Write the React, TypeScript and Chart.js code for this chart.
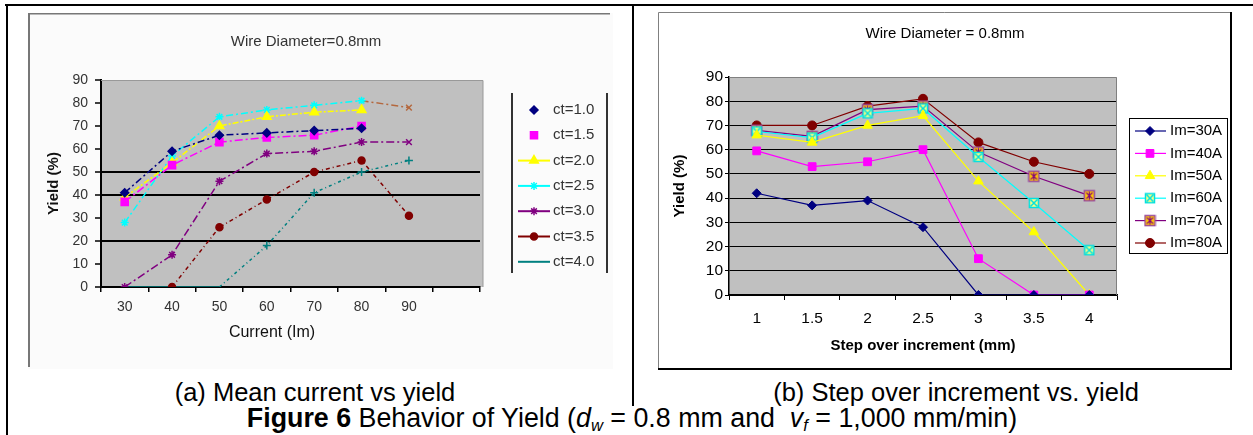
import React, { useEffect, useRef } from 'react';
import { Chart, registerables } from 'chart.js';
import { drawPoint } from 'chart.js/helpers';

Chart.register(...registerables);

// ---------- Data: chart (a) Mean current vs yield ----------
const currentLabels = ['30', '40', '50', '60', '70', '80', '90', ''];
const ctNames = ['ct=1.0', 'ct=1.5', 'ct=2.0', 'ct=2.5', 'ct=3.0', 'ct=3.5', 'ct=4.0'];
const ct10 = [41, 59, 66, 67, 68, 69, null, null];
const ct15 = [37, 53, 63, 65, 66, 70, null, null];
const ct20 = [39, 54, 70, 74, 76, 77, null, null];
const ct25 = [28, 57, 74, 77, 79, 81, 78, null];
const ct30 = [0, 14, 46, 58, 59, 63, 63, null];
const ct35 = [null, 0, 26, 38, 50, 55, 31, null];
const ct40 = [0, 0, 0, 18, 41, 50, 55, null];

// ---------- Data: chart (b) Step over increment vs yield ----------
const stepLabels = ['1', '1.5', '2', '2.5', '3', '3.5', '4'];
const imNames = ['Im=30A', 'Im=40A', 'Im=50A', 'Im=60A', 'Im=70A', 'Im=80A'];
const im30 = [42, 37, 39, 28, 0, 0, 0];
const im40 = [59.5, 53, 55, 60, 15, 0, 0];
const im50 = [66, 63, 70, 74, 47, 26, 0];
const im60 = [67.5, 65, 75, 77, 57, 38, 18.5];
const im70 = [68, 65.5, 76.5, 78, 59, 49, 41];
const im80 = [70, 70, 78, 81, 63, 55, 50];

const yTicksMax = 90;
const yStep = 10;

const FONT = '"Liberation Sans", Arial, Helvetica, sans-serif';

function makeMarker(size: number, draw: (c: CanvasRenderingContext2D) => void) {
  const cv = document.createElement('canvas');
  cv.width = size;
  cv.height = size;
  const c = cv.getContext('2d')!;
  draw(c);
  return cv;
}

export default function App() {
  const refA = useRef<HTMLCanvasElement>(null);
  const refB = useRef<HTMLCanvasElement>(null);

  useEffect(() => {
    // ---------------- Chart A ----------------
    const brownSeg = '#b4683e';
    const styleA = [
      { color: '#000080', ps: 'rectRot', r: 4, dash: [7, 3, 2, 3], legLine: false },
      { color: '#ff00ff', ps: 'rect', r: 5, dash: [8, 3, 2, 3], legLine: false },
      { color: '#ffff00', ps: 'triangle', r: 5, dash: [6, 2, 2, 2], legLine: true },
      { color: '#00ffff', ps: 'star', r: 4, dash: [7, 3, 2, 3], legLine: true },
      { color: '#800080', ps: 'star', r: 4, dash: [8, 3, 2, 3], legLine: true },
      { color: '#800000', ps: 'circle', r: 3.5, dash: [4, 3, 1, 3], legLine: true },
      { color: '#008080', ps: 'cross', r: 4, dash: [3, 3, 1, 3], legLine: true },
    ];
    const valuesA = [ct10, ct15, ct20, ct25, ct30, ct35, ct40];

    const datasetsA = valuesA.map((vals, i) => {
      const st = styleA[i];
      const ds: any = {
        label: ctNames[i],
        data: vals,
        borderColor: st.color,
        backgroundColor: st.color,
        borderWidth: 1.5,
        borderDash: st.dash,
        pointStyle: st.ps,
        pointRadius: st.r,
        pointBorderWidth: 1.5,
        pointBackgroundColor: st.color,
        pointBorderColor: st.color,
        spanGaps: false,
        tension: 0,
      };
      if (i === 3) {
        ds.pointBorderColor = vals.map((_, k) => (k === 6 ? brownSeg : st.color));
        ds.pointBackgroundColor = ds.pointBorderColor;
        ds.pointStyle = vals.map((_, k) => (k === 6 ? 'crossRot' : 'star'));
        ds.segment = {
          borderColor: (ctx: any) => (ctx.p1DataIndex === 6 ? brownSeg : undefined),
        };
      }
      if (i === 4) {
        ds.pointStyle = vals.map((_, k) => (k === 6 ? 'crossRot' : 'star'));
      }
      if (i === 6) {
        ds.pointRadius = vals.map((v, k) => (k >= 3 ? 4 : 0));
        ds.segment = {
          borderDash: (ctx: any) => (ctx.p1.parsed.y === 0 && ctx.p0.parsed.y === 0 ? [] : undefined),
        };
      }
      return ds;
    });

    const pluginA = {
      id: 'decorA',
      beforeDraw(chart: any) {
        const { ctx, chartArea: ca, width, height } = chart;
        ctx.save();
        ctx.fillStyle = '#fbfbfb';
        ctx.fillRect(0, 0, width, height);
        ctx.strokeStyle = '#777';
        ctx.lineWidth = 1.5;
        ctx.beginPath();
        ctx.moveTo(0, 0.75);
        ctx.lineTo(582, 0.75);
        ctx.stroke();
        ctx.lineWidth = 2;
        ctx.beginPath();
        ctx.moveTo(1, 0);
        ctx.lineTo(1, 354);
        ctx.stroke();
        ctx.fillStyle = '#c0c0c0';
        ctx.fillRect(ca.left, ca.top, ca.right - ca.left + 3, ca.bottom - ca.top);
        ctx.restore();
      },
      afterDraw(chart: any) {
        const { ctx, chartArea: ca } = chart;
        ctx.save();
        ctx.strokeStyle = '#999';
        ctx.lineWidth = 1;
        ctx.beginPath();
        ctx.moveTo(ca.left, ca.top + 0.5);
        ctx.lineTo(ca.right + 3, ca.top + 0.5);
        ctx.lineTo(ca.right + 3, ca.bottom);
        ctx.stroke();
        // title
        ctx.fillStyle = '#333';
        ctx.textAlign = 'center';
        ctx.textBaseline = 'middle';
        ctx.font = `15px ${FONT}`;
        ctx.fillText('Wire Diameter=0.8mm', 278, 29);
        // x axis title
        ctx.fillStyle = '#111';
        ctx.font = `16px ${FONT}`;
        ctx.fillText('Current (Im)', 244, 320);
        // legend
        ctx.strokeStyle = '#333';
        ctx.lineWidth = 2;
        ctx.beginPath();
        ctx.moveTo(484, 80);
        ctx.lineTo(484, 260);
        ctx.moveTo(579, 80);
        ctx.lineTo(579, 260);
        ctx.stroke();
        chart.data.datasets.forEach((ds: any, i: number) => {
          const st = styleA[i];
          const y = 97 + i * 25.3;
          ctx.setLineDash([]);
          if (st.legLine) {
            ctx.strokeStyle = st.color;
            ctx.lineWidth = 2;
            ctx.beginPath();
            ctx.moveTo(490, y);
            ctx.lineTo(522, y);
            ctx.stroke();
          }
          if (i !== 6) {
            ctx.fillStyle = st.color;
            ctx.strokeStyle = st.color;
            ctx.lineWidth = 1.5;
            drawPoint(ctx, { pointStyle: st.ps, radius: st.r, rotation: 0, borderWidth: 1.5 } as any, 506, y);
          }
          ctx.fillStyle = '#333';
          ctx.font = `15px ${FONT}`;
          ctx.textAlign = 'left';
          ctx.textBaseline = 'middle';
          ctx.fillText(ds.label, 525, y);
        });
        ctx.restore();
      },
    };

    const chartA = new Chart(refA.current!, {
      type: 'line',
      data: { labels: currentLabels, datasets: datasetsA },
      options: {
        responsive: false,
        animation: false,
        events: [],
        layout: { padding: { left: 0, top: 67, right: 133, bottom: 0 } },
        plugins: {
          legend: { display: false },
          title: { display: false },
          tooltip: { enabled: false },
        },
        scales: {
          x: {
            type: 'category',
            offset: true,
            grid: {
              offset: true,
              drawOnChartArea: false,
              color: '#000',
              tickLength: 5,
              lineWidth: 1.5,
            },
            border: { color: '#000', width: 2 },
            ticks: {
              font: { family: FONT, size: 14 },
              color: '#333',
              padding: 7,
              maxRotation: 0,
              autoSkip: false,
            },
            afterFit: (s: any) => {
              s.height = 82;
            },
          },
          y: {
            min: 0,
            max: yTicksMax,
            ticks: {
              stepSize: yStep,
              font: { family: FONT, size: 14 },
              color: '#333',
              padding: 7,
            },
            grid: {
              color: (c: any) => ([20, 40, 50].includes(c.tick?.value) ? '#000' : 'rgba(0,0,0,0)'),
              tickColor: '#000',
              tickLength: 6,
              lineWidth: 2,
              tickWidth: 1.5,
            } as any,
            border: { color: '#000', width: 2 },
            title: {
              display: true,
              text: 'Yield (%)',
              font: { family: FONT, size: 15, weight: 'bold' },
              color: '#111',
              padding: { top: 17, bottom: 0 },
            },
            afterFit: (s: any) => {
              s.width = 73;
            },
          },
        },
      } as any,
      plugins: [pluginA],
    });

    // ---------------- Chart B ----------------
    const m60 = makeMarker(12, (c) => {
      c.fillStyle = '#ffff80';
      c.fillRect(1, 1, 10, 10);
      c.strokeStyle = '#00e0e0';
      c.lineWidth = 1.5;
      c.strokeRect(1.5, 1.5, 9, 9);
      c.beginPath();
      c.moveTo(2.5, 2.5);
      c.lineTo(9.5, 9.5);
      c.moveTo(9.5, 2.5);
      c.lineTo(2.5, 9.5);
      c.stroke();
    });
    const m70 = makeMarker(13, (c) => {
      c.fillStyle = '#ffcc00';
      c.fillRect(1, 1, 11, 11);
      c.strokeStyle = '#9a4a9a';
      c.lineWidth = 1.5;
      c.strokeRect(1.5, 1.5, 10, 10);
      c.strokeStyle = '#800080';
      c.lineWidth = 1.1;
      c.beginPath();
      c.moveTo(3.5, 3.5);
      c.lineTo(9.5, 9.5);
      c.moveTo(9.5, 3.5);
      c.lineTo(3.5, 9.5);
      c.moveTo(6.5, 2.5);
      c.lineTo(6.5, 10.5);
      c.stroke();
    });

    const styleB = [
      { color: '#000080', ps: 'rectRot' as any, r: 4.5 },
      { color: '#ff00ff', ps: 'rect' as any, r: 5.5 },
      { color: '#ffff00', ps: 'triangle' as any, r: 5.5 },
      { color: '#00ffff', ps: m60 as any, r: 6 },
      { color: '#800080', ps: m70 as any, r: 6 },
      { color: '#800000', ps: 'circle' as any, r: 4.5 },
    ];
    const valuesB = [im30, im40, im50, im60, im70, im80];

    const datasetsB = valuesB.map((vals, i) => ({
      label: imNames[i],
      data: vals,
      borderColor: styleB[i].color,
      backgroundColor: styleB[i].color,
      borderWidth: 1.2,
      pointStyle: styleB[i].ps,
      pointRadius: styleB[i].r,
      pointBorderWidth: 1,
      pointBackgroundColor: styleB[i].color,
      pointBorderColor: styleB[i].color,
      tension: 0,
    }));

    const pluginB = {
      id: 'decorB',
      beforeDraw(chart: any) {
        const { ctx, chartArea: ca, width, height } = chart;
        ctx.save();
        ctx.fillStyle = '#ffffff';
        ctx.fillRect(0, 0, width, height);
        ctx.strokeStyle = '#808080';
        ctx.lineWidth = 1;
        ctx.beginPath();
        ctx.moveTo(0.5, 357);
        ctx.lineTo(0.5, 0.5);
        ctx.lineTo(573, 0.5);
        ctx.stroke();
        ctx.strokeStyle = '#000';
        ctx.lineWidth = 2;
        ctx.beginPath();
        ctx.moveTo(573, 0);
        ctx.lineTo(573, 357);
        ctx.lineTo(0, 357);
        ctx.stroke();
        ctx.fillStyle = '#c0c0c0';
        ctx.fillRect(ca.left, ca.top, ca.right - ca.left, ca.bottom - ca.top);
        ctx.restore();
      },
      afterDraw(chart: any) {
        const { ctx, chartArea: ca } = chart;
        ctx.save();
        ctx.strokeStyle = '#808080';
        ctx.lineWidth = 1;
        ctx.beginPath();
        ctx.moveTo(ca.left, ca.top + 0.5);
        ctx.lineTo(ca.right - 0.5, ca.top + 0.5);
        ctx.lineTo(ca.right - 0.5, ca.bottom);
        ctx.stroke();
        // title
        ctx.fillStyle = '#000';
        ctx.textAlign = 'center';
        ctx.textBaseline = 'middle';
        ctx.font = `15px ${FONT}`;
        ctx.fillText('Wire Diameter = 0.8mm', 287, 22);
        // legend
        ctx.fillStyle = '#fff';
        ctx.fillRect(471, 106, 98, 135);
        ctx.strokeStyle = '#000';
        ctx.lineWidth = 1;
        ctx.strokeRect(471.5, 106.5, 98, 135);
        chart.data.datasets.forEach((ds: any, i: number) => {
          const st = styleB[i];
          const y = 119 + i * 22.4;
          ctx.strokeStyle = st.color;
          ctx.lineWidth = 1.2;
          ctx.beginPath();
          ctx.moveTo(477, y);
          ctx.lineTo(508, y);
          ctx.stroke();
          ctx.fillStyle = st.color;
          ctx.strokeStyle = st.color;
          ctx.lineWidth = 1;
          drawPoint(ctx, { pointStyle: st.ps, radius: st.r, rotation: 0, borderWidth: 1 } as any, 492, y);
          ctx.fillStyle = '#000';
          ctx.font = `15px ${FONT}`;
          ctx.textAlign = 'left';
          ctx.textBaseline = 'middle';
          ctx.fillText(ds.label, 512, y);
        });
        ctx.restore();
      },
    };

    const chartB = new Chart(refB.current!, {
      type: 'line',
      data: { labels: stepLabels, datasets: datasetsB },
      options: {
        responsive: false,
        animation: false,
        events: [],
        layout: { padding: { left: 0, top: 65, right: 116, bottom: 0 } },
        plugins: {
          legend: { display: false },
          title: { display: false },
          tooltip: { enabled: false },
        },
        scales: {
          x: {
            type: 'category',
            offset: true,
            grid: {
              offset: true,
              drawOnChartArea: false,
              color: '#000',
              tickLength: 5,
              lineWidth: 1,
            },
            border: { color: '#000', width: 1.5 },
            ticks: {
              font: { family: FONT, size: 15.5 },
              color: '#000',
              padding: 9,
              maxRotation: 0,
              autoSkip: false,
            },
            title: {
              display: true,
              text: 'Step over increment (mm)',
              font: { family: FONT, size: 15, weight: 'bold' },
              color: '#000',
              padding: { top: 0, bottom: 15 },
            },
            afterFit: (s: any) => {
              s.height = 75;
            },
          },
          y: {
            min: 0,
            max: yTicksMax,
            ticks: {
              stepSize: yStep,
              font: { family: FONT, size: 15.5 },
              color: '#000',
              padding: 2,
            },
            grid: {
              color: (c: any) => (c.tick?.value === yTicksMax ? 'rgba(0,0,0,0)' : '#000'),
              tickColor: '#000',
              tickLength: 4,
              lineWidth: 1,
            } as any,
            border: { color: '#000', width: 1.5 },
            title: {
              display: true,
              text: 'Yield (%)',
              font: { family: FONT, size: 15, weight: 'bold' },
              color: '#000',
              padding: { top: 13, bottom: 0 },
            },
            afterFit: (s: any) => {
              s.width = 71;
            },
          },
        },
      } as any,
      plugins: [pluginB],
    });

    return () => {
      chartA.destroy();
      chartB.destroy();
    };
  }, []);

  const capStyle: React.CSSProperties = {
    position: 'absolute',
    fontFamily: FONT,
    fontSize: 25.5,
    lineHeight: '25px',
    color: '#000',
    textAlign: 'center',
    whiteSpace: 'nowrap',
  };
  const subStyle: React.CSSProperties = {
    fontSize: '0.62em',
    verticalAlign: '-0.25em',
    lineHeight: 0,
    fontStyle: 'italic',
  };

  return (
    <div
      style={{
        position: 'absolute',
        left: 0,
        top: 0,
        width: 1253,
        height: 435,
        background: '#fff',
        overflow: 'hidden',
      }}
    >
      <div style={{ position: 'absolute', left: 5, top: 4, width: 1248, height: 2, background: '#000' }} />
      <div style={{ position: 'absolute', left: 6, top: 4, width: 2, height: 431, background: '#000' }} />
      <div style={{ position: 'absolute', left: 632, top: 4, width: 2, height: 402, background: '#000' }} />
      <canvas
        ref={refA}
        width={585}
        height={356}
        style={{ position: 'absolute', left: 28, top: 13, width: 585, height: 356 }}
      />
      <canvas
        ref={refB}
        width={575}
        height={358}
        style={{ position: 'absolute', left: 658, top: 12, width: 575, height: 358 }}
      />
      <div style={{ ...capStyle, left: 115, width: 400, top: 380 }}>(a) Mean current vs yield</div>
      <div style={{ ...capStyle, left: 756, width: 400, top: 380 }}>(b) Step over increment vs. yield</div>
      <div style={{ ...capStyle, fontSize: 26.8, lineHeight: '26px', left: 232, width: 800, top: 405 }}>
        <b>Figure 6</b> Behavior of Yield (<i>d</i>
        <span style={subStyle}>w</span> = 0.8 mm and&nbsp; <i>v</i>
        <span style={subStyle}>f</span> = 1,000 mm/min)
      </div>
    </div>
  );
}
